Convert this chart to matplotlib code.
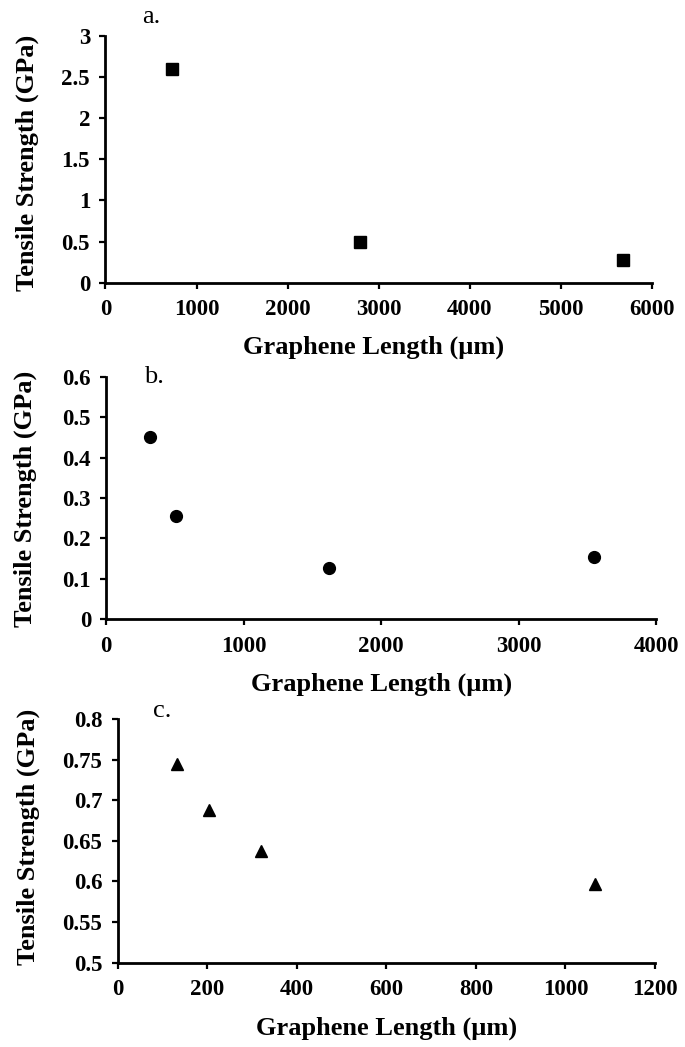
import matplotlib
matplotlib.use("Agg")
import matplotlib.pyplot as plt
from matplotlib.ticker import FuncFormatter, MultipleLocator

plt.rcParams['font.family'] = ['Liberation Serif', 'DejaVu Serif']

# Data
a_length = [730, 2800, 5680]
a_strength = [2.60, 0.50, 0.27]
b_length = [320, 510, 1620, 3550]
b_strength = [0.45, 0.255, 0.128, 0.153]
c_length = [133, 205, 321, 1066]
c_strength = [0.745, 0.688, 0.638, 0.597]

xlabel = "Graphene Length (\u00b5m)"
ylabel = "Tensile Strength (GPa)"

W, H = 685, 1047
fig = plt.figure(figsize=(W / 100, H / 100), dpi=100)


def px_axes(left, top, right, bottom):
    return fig.add_axes([left / W, 1 - bottom / H, (right - left) / W, (bottom - top) / H])


fmt = FuncFormatter(lambda v, p: "%g" % round(v, 4))

panels = [
    dict(box=(105.4, 35.7, 652, 282.7), x=a_length, y=a_strength, marker='s', ms=9,
         xlim=(0, 6000), xstep=1000, ylim=(0, 3), ystep=0.5, tag="a.", tagpos=(151, 17),
         xl=(0.49, -0.26), yl=(-0.142, 0.485)),
    dict(box=(106.3, 376.7, 656, 619.3), x=b_length, y=b_strength, marker='o', ms=8.5,
         xlim=(0, 4000), xstep=1000, ylim=(0, 0.6), ystep=0.1, tag="b.", tagpos=(154, 377),
         xl=(0.5, -0.267), yl=(-0.147, 0.496)),
    dict(box=(117.7, 719, 655, 962.7), x=c_length, y=c_strength, marker='^', ms=8.5,
         xlim=(0, 1200), xstep=200, ylim=(0.5, 0.8), ystep=0.05, tag="c.", tagpos=(162, 711),
         xl=(0.5, -0.268), yl=(-0.167, 0.516)),
]

for p in panels:
    ax = px_axes(*p['box'])
    ax.plot(p['x'], p['y'], linestyle='none', marker=p['marker'], ms=p['ms'],
            color='black', clip_on=False)
    ax.set_xlim(*p['xlim'])
    ax.set_ylim(*p['ylim'])
    ax.xaxis.set_major_locator(MultipleLocator(p['xstep']))
    ax.yaxis.set_major_locator(MultipleLocator(p['ystep']))
    ax.yaxis.set_major_formatter(fmt)
    ax.xaxis.set_major_formatter(fmt)
    for s in ('top', 'right'):
        ax.spines[s].set_visible(False)
    for s in ('left', 'bottom'):
        ax.spines[s].set_linewidth(2.0)
    ax.tick_params(direction='out', length=4, width=1.6, labelsize=16.5)
    ax.tick_params(axis='x', pad=8)
    ax.tick_params(axis='y', pad=7)
    for lab in ax.get_xticklabels() + ax.get_yticklabels():
        lab.set_fontweight('bold')
    ax.set_xlabel(xlabel, fontsize=19, fontweight='bold', va='center')
    ax.set_ylabel(ylabel, fontsize=19, fontweight='bold', va='center')
    ax.xaxis.set_label_coords(*p['xl'])
    ax.yaxis.set_label_coords(*p['yl'])
    fig.text(p['tagpos'][0] / W, 1 - p['tagpos'][1] / H, p['tag'], fontsize=19,
             ha='center', va='center')

fig.savefig("out.png", dpi=100)
